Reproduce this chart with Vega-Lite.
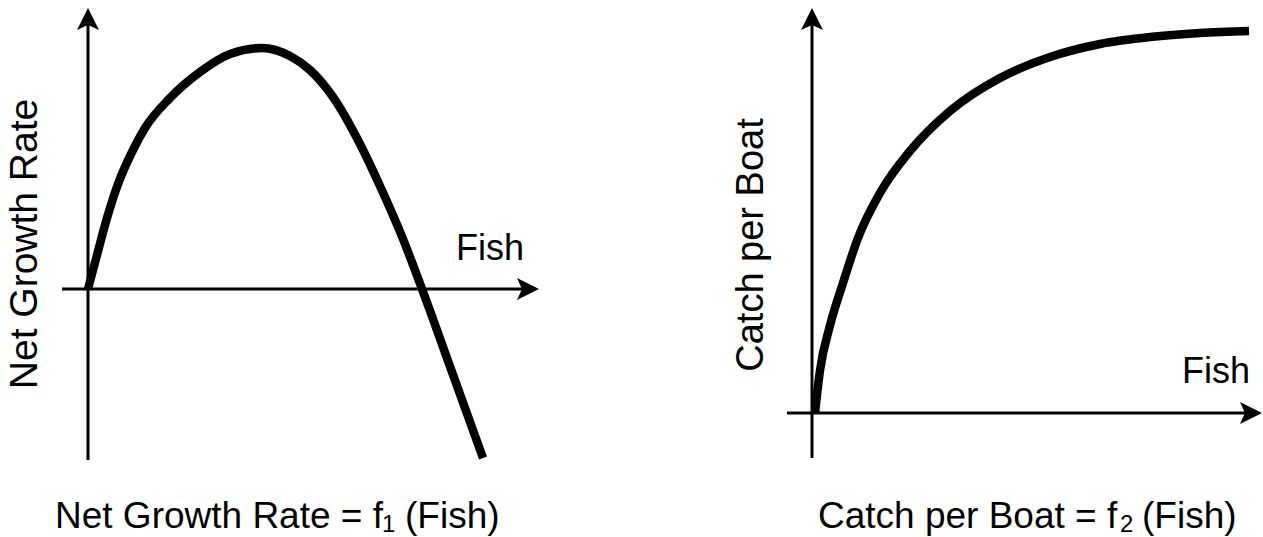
{
  "$schema": "https://vega.github.io/schema/vega-lite/v6.json",
  "padding": 0,
  "spacing": 0,
  "bounds": "flush",
  "config": {"view": {"stroke": null}, "text": {"font": "Liberation Sans", "color": "black"}},
  "datasets": {
    "growth_curve": [
      {"fish": 0, "rate": 0}, {"fish": 0.18, "rate": 0.68}, {"fish": 0.38, "rate": 1.42}, {"fish": 0.6, "rate": 2.1},
      {"fish": 0.9, "rate": 2.78}, {"fish": 1.14, "rate": 3.22}, {"fish": 1.64, "rate": 3.82}, {"fish": 2.24, "rate": 4.34},
      {"fish": 2.84, "rate": 4.7}, {"fish": 3.48, "rate": 4.82}, {"fish": 4.04, "rate": 4.66}, {"fish": 4.44, "rate": 4.38},
      {"fish": 4.9, "rate": 3.84}, {"fish": 5.44, "rate": 2.9}, {"fish": 5.84, "rate": 2.06}, {"fish": 6.3, "rate": 1.0},
      {"fish": 6.68, "rate": 0}, {"fish": 7.28, "rate": -1.66}, {"fish": 7.9, "rate": -3.38}
    ],
    "growth_axes": [
      {"fish": 0, "fish2": 0, "rate": -3.42, "rate2": 5.3},
      {"fish": -0.52, "fish2": 8.76, "rate": 0, "rate2": 0}
    ],
    "growth_arrows": [
      {"fish": 0, "rate": 5.4, "dir": "up"},
      {"fish": 8.8, "rate": 0, "dir": "right"}
    ],
    "growth_labels": [
      {"label": "Fish", "fish": 7.36, "rate": 0.58, "kind": "axis"},
      {"label": "Net Growth Rate", "fish": -1.02, "rate": 0.9, "kind": "ylabel"},
      {"label": "Net Growth Rate = f", "fish": -0.66, "rate": -4.78, "kind": "caption"},
      {"label": "1", "fish": 5.88, "rate": -4.86, "kind": "sub"},
      {"label": "(Fish)", "fish": 6.34, "rate": -4.78, "kind": "caption"}
    ],
    "catch_curve": [
      {"fish": 0.06, "catch": 0}, {"fish": 0.16, "catch": 0.85}, {"fish": 0.36, "catch": 1.75}, {"fish": 0.62, "catch": 2.6},
      {"fish": 0.92, "catch": 3.5}, {"fish": 1.36, "catch": 4.4}, {"fish": 1.96, "catch": 5.24}, {"fish": 2.76, "catch": 6.04},
      {"fish": 3.76, "catch": 6.7}, {"fish": 4.76, "catch": 7.12}, {"fish": 5.76, "catch": 7.38}, {"fish": 6.76, "catch": 7.52},
      {"fish": 7.76, "catch": 7.6}, {"fish": 8.74, "catch": 7.64}
    ],
    "catch_axes": [
      {"fish": 0, "fish2": 0, "catch": -0.9, "catch2": 7.78},
      {"fish": -0.5, "fish2": 8.76, "catch": 0, "catch2": 0}
    ],
    "catch_arrows": [
      {"fish": 0, "catch": 7.88, "dir": "up"},
      {"fish": 8.78, "catch": 0, "dir": "right"}
    ],
    "catch_labels": [
      {"label": "Fish", "fish": 7.4, "catch": 0.6, "kind": "axis"},
      {"label": "Catch per Boat", "fish": -0.98, "catch": 3.36, "kind": "ylabel"},
      {"label": "Catch per Boat = f", "fish": 0.12, "catch": -2.3, "kind": "caption"},
      {"label": "2", "fish": 6.16, "catch": -2.38, "kind": "sub"},
      {"label": "(Fish)", "fish": 6.6, "catch": -2.3, "kind": "caption"}
    ]
  },
  "hconcat": [
    {
      "width": 632,
      "height": 537,
      "encoding": {
        "x": {"field": "fish", "type": "quantitative", "scale": {"domain": [-1.76, 10.88], "nice": false, "zero": false}, "axis": null},
        "y": {"field": "rate", "type": "quantitative", "scale": {"domain": [-4.96, 5.78], "nice": false, "zero": false}, "axis": null}
      },
      "layer": [
        {
          "data": {"name": "growth_axes"},
          "mark": {"type": "rule", "color": "black", "strokeWidth": 3},
          "encoding": {"x2": {"field": "fish2"}, "y2": {"field": "rate2"}}
        },
        {
          "data": {"name": "growth_arrows"},
          "transform": [{"filter": "datum.dir === 'up'"}],
          "mark": {"type": "point", "shape": "M0,-1L1,1L0,0.55L-1,1Z", "filled": true, "color": "black", "opacity": 1, "size": 484, "angle": 0}
        },
        {
          "data": {"name": "growth_arrows"},
          "transform": [{"filter": "datum.dir === 'right'"}],
          "mark": {"type": "point", "shape": "M0,-1L1,1L0,0.55L-1,1Z", "filled": true, "color": "black", "opacity": 1, "size": 484, "angle": 90}
        },
        {
          "data": {"name": "growth_curve"},
          "mark": {"type": "line", "color": "black", "strokeWidth": 8.5, "strokeCap": "butt", "interpolate": "monotone"}
        },
        {
          "data": {"name": "growth_labels"},
          "transform": [{"filter": "datum.kind === 'axis'"}],
          "mark": {"type": "text", "fontSize": 36, "align": "left", "baseline": "alphabetic"},
          "encoding": {"text": {"field": "label"}}
        },
        {
          "data": {"name": "growth_labels"},
          "transform": [{"filter": "datum.kind === 'ylabel'"}],
          "mark": {"type": "text", "fontSize": 39, "align": "center", "baseline": "alphabetic", "angle": 270},
          "encoding": {"text": {"field": "label"}}
        },
        {
          "data": {"name": "growth_labels"},
          "transform": [{"filter": "datum.kind === 'caption'"}],
          "mark": {"type": "text", "fontSize": 37, "align": "left", "baseline": "alphabetic"},
          "encoding": {"text": {"field": "label"}}
        },
        {
          "data": {"name": "growth_labels"},
          "transform": [{"filter": "datum.kind === 'sub'"}],
          "mark": {"type": "text", "fontSize": 24, "align": "left", "baseline": "alphabetic"},
          "encoding": {"text": {"field": "label"}}
        }
      ]
    },
    {
      "width": 631,
      "height": 537,
      "encoding": {
        "x": {"field": "fish", "type": "quantitative", "scale": {"domain": [-3.6, 9.02], "nice": false, "zero": false}, "axis": null},
        "y": {"field": "catch", "type": "quantitative", "scale": {"domain": [-2.48, 8.26], "nice": false, "zero": false}, "axis": null}
      },
      "layer": [
        {
          "data": {"name": "catch_axes"},
          "mark": {"type": "rule", "color": "black", "strokeWidth": 3},
          "encoding": {"x2": {"field": "fish2"}, "y2": {"field": "catch2"}}
        },
        {
          "data": {"name": "catch_arrows"},
          "transform": [{"filter": "datum.dir === 'up'"}],
          "mark": {"type": "point", "shape": "M0,-1L1,1L0,0.55L-1,1Z", "filled": true, "color": "black", "opacity": 1, "size": 484, "angle": 0}
        },
        {
          "data": {"name": "catch_arrows"},
          "transform": [{"filter": "datum.dir === 'right'"}],
          "mark": {"type": "point", "shape": "M0,-1L1,1L0,0.55L-1,1Z", "filled": true, "color": "black", "opacity": 1, "size": 484, "angle": 90}
        },
        {
          "data": {"name": "catch_curve"},
          "mark": {"type": "line", "color": "black", "strokeWidth": 8.5, "strokeCap": "butt", "interpolate": "monotone"}
        },
        {
          "data": {"name": "catch_labels"},
          "transform": [{"filter": "datum.kind === 'axis'"}],
          "mark": {"type": "text", "fontSize": 36, "align": "left", "baseline": "alphabetic"},
          "encoding": {"text": {"field": "label"}}
        },
        {
          "data": {"name": "catch_labels"},
          "transform": [{"filter": "datum.kind === 'ylabel'"}],
          "mark": {"type": "text", "fontSize": 38, "align": "center", "baseline": "alphabetic", "angle": 270},
          "encoding": {"text": {"field": "label"}}
        },
        {
          "data": {"name": "catch_labels"},
          "transform": [{"filter": "datum.kind === 'caption'"}],
          "mark": {"type": "text", "fontSize": 37, "align": "left", "baseline": "alphabetic"},
          "encoding": {"text": {"field": "label"}}
        },
        {
          "data": {"name": "catch_labels"},
          "transform": [{"filter": "datum.kind === 'sub'"}],
          "mark": {"type": "text", "fontSize": 24, "align": "left", "baseline": "alphabetic"},
          "encoding": {"text": {"field": "label"}}
        }
      ]
    }
  ]
}
